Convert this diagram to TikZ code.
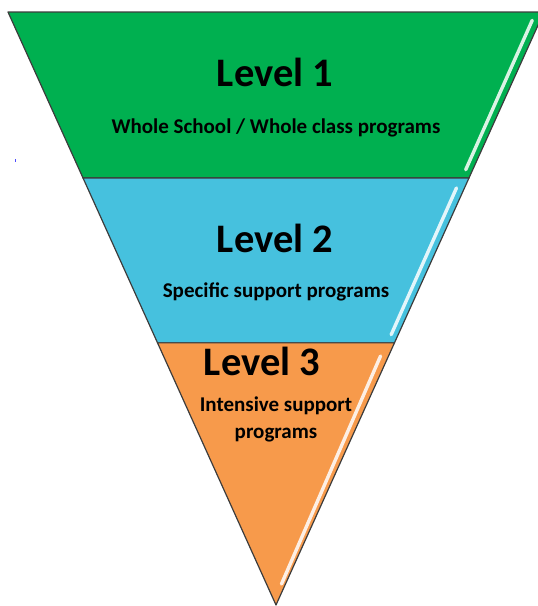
\documentclass[tikz,border=0pt]{standalone}
\usepackage{fontspec}
\setmainfont{Carlito}
\usetikzlibrary{calc,positioning}

\definecolor{lvgreen}{HTML}{00B050}
\definecolor{lvblue}{HTML}{46C1DE}
\definecolor{lvorange}{HTML}{F79A4B}
\definecolor{edgegray}{HTML}{3C3C3C}

\begin{document}
\begin{tikzpicture}[x=1pt,y=-1pt, band/.style={draw=edgegray,line width=1.2pt,line join=round}, gloss/.style={white,line width=3.4pt,line cap=round,opacity=0.85}, title/.style={font=\bfseries\fontsize{40.5}{40}\selectfont,inner sep=0pt}, sub/.style={font=\bfseries\fontsize{21}{27}\selectfont,inner sep=0pt,align=center}]
\useasboundingbox (0,0) rectangle (538,606);
\clip (0,0) rectangle (538,606);
% outline of the funnel
\coordinate (tl) at (8,12);
\coordinate (tr) at (544,12);
\coordinate (apex) at (276,605);
\coordinate (l1) at ($(tl)!0.28!(apex)$);
\coordinate (r1) at ($(tr)!0.28!(apex)$);
\coordinate (l2) at ($(tl)!0.558!(apex)$);
\coordinate (r2) at ($(tr)!0.558!(apex)$);
% bands
\filldraw[band,fill=lvgreen] (tl) -- (tr) -- (r1) -- (l1) -- cycle;
\filldraw[band,fill=lvblue] (l1) -- (r1) -- (r2) -- (l2) -- cycle;
\filldraw[band,fill=lvorange] (l2) -- (r2) -- (apex) -- cycle;
% glossy edges
\draw[gloss] ($(tr)!0.05!(r1)+(-8,0)$) -- ($(tr)!0.95!(r1)+(-7,0)$);
\draw[gloss] ($(r1)!0.06!(r2)+(-8,0)$) -- ($(r1)!0.95!(r2)+(-7,0)$);
\draw[gloss] ($(r2)!0.05!(apex)+(-8,0)$) -- ($(r2)!0.92!(apex)+(-4,0)$);
% stray dot
\fill[blue!70] (14.5,159) rectangle (16,161.5);
% labels
\node[title] (lvone) at (275,72) {Level 1};
\node[sub] (lvonetxt) at (276,128) {Whole School / Whole class programs};
\node[title] (lvtwo) at (275,238) {Level 2};
\node[sub] (lvtwotxt) at (276,292) {Specific support programs};
\node[title] (lvthree) at (262,361) {Level 3};
\node[sub] (lvthreetxt) at (276,419) {Intensive support\\programs};
\end{tikzpicture}
\end{document}
